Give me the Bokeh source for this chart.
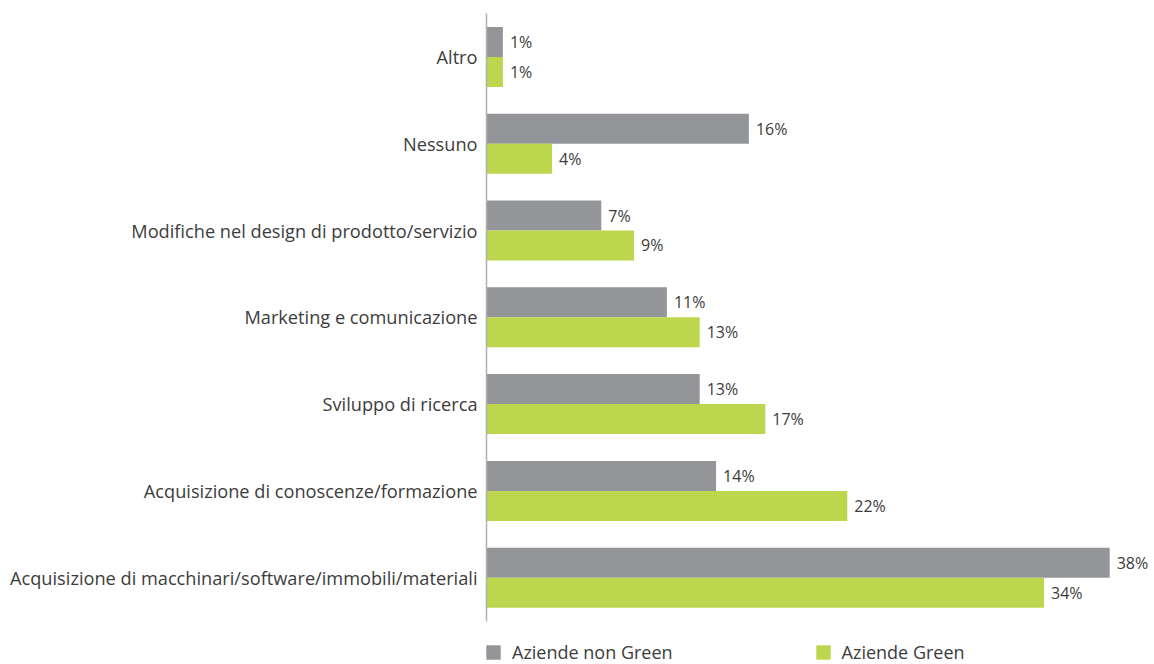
from bokeh.plotting import figure
from bokeh.models import (ColumnDataSource, Range1d, Legend, LegendItem, LabelSet,
                          FixedTicker)
from bokeh.transform import dodge
from bokeh.core.properties import value
from bokeh.embed import file_html
from bokeh.resources import INLINE

categories = [
    "Altro",
    "Nessuno",
    "Modifiche nel design di prodotto/servizio",
    "Marketing e comunicazione",
    "Sviluppo di ricerca",
    "Acquisizione di conoscenze/formazione",
    "Acquisizione di macchinari/software/immobili/materiali",
]
non_green = [1, 16, 7, 11, 13, 14, 38]
green = [1, 4, 9, 13, 17, 22, 34]
series_names = ["Aziende non Green", "Aziende Green"]

GRAY = "#939598"
GREEN = "#bcd64e"
TEXT = "#3c3c3c"
FONT = "Open Sans"

n = len(categories)
ypos = [n - 1 - i for i in range(n)]  # first category at the top

src = ColumnDataSource(dict(
    y=ypos,
    cat=categories,
    ng=non_green,
    g=green,
    ng_lab=[f"{v}%" for v in non_green],
    g_lab=[f"{v}%" for v in green],
))

top = n - 0.5
p = figure(width=1150, height=664, y_range=Range1d(-1.0, top), x_range=Range1d(0, 40.49),
           output_backend="svg", toolbar_location=None,
           min_border_left=486, min_border_right=0, min_border_top=13, min_border_bottom=0)

off = 0.1728
bh = 0.3456
r1 = p.hbar(y=dodge("y", off), left=0, right="ng", height=bh, source=src,
            fill_color=GRAY, line_color=None)
r2 = p.hbar(y=dodge("y", -off), left=0, right="g", height=bh, source=src,
            fill_color=GREEN, line_color=None)

for col, lab, o in (("ng", "ng_lab", off), ("g", "g_lab", -off)):
    ls = LabelSet(x=col, y=dodge("y", o), text=lab, source=src,
                  x_offset=7, text_baseline="middle", text_font=value(FONT),
                  text_font_size="16px", text_color=TEXT)
    p.add_layout(ls)

p.xaxis.visible = False
p.xgrid.visible = False
p.ygrid.visible = False
p.outline_line_color = None

p.yaxis.ticker = FixedTicker(ticks=ypos)
p.yaxis.major_label_overrides = {y: c for y, c in zip(ypos, categories)}
p.yaxis.bounds = (-0.5, top)
p.yaxis.major_tick_line_color = None
p.yaxis.minor_tick_line_color = None
p.yaxis.axis_line_color = "#b0b0b0"
p.yaxis.axis_line_width = 1.5
p.yaxis.major_label_standoff = 3
p.yaxis.major_label_text_font = FONT
p.yaxis.major_label_text_font_size = "18.2px"
p.yaxis.major_label_text_color = TEXT

legend = Legend(items=[LegendItem(label=series_names[0], renderers=[r1]),
                       LegendItem(label=series_names[1], renderers=[r2])],
                orientation="horizontal", location=(-2, 0))
legend.padding = 0
legend.margin = 0
legend.glyph_width = 18
legend.glyph_height = 18
legend.label_height = 18
legend.label_standoff = 10
legend.spacing = 141
legend.label_text_font = FONT
legend.label_text_font_size = "18px"
legend.label_text_color = TEXT
legend.border_line_color = None
legend.background_fill_alpha = 0
p.add_layout(legend, "center")

open("out.html", "w").write(file_html(p, INLINE))
